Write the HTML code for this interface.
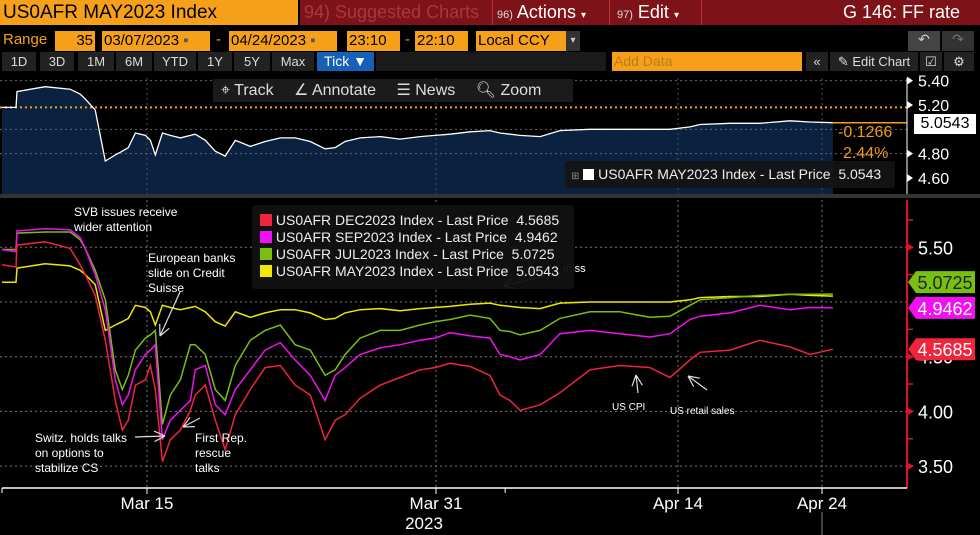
<!DOCTYPE html>
<html><head><meta charset="utf-8"><style>
body{margin:0;width:980px;height:535px;background:#000;overflow:hidden;font-family:"Liberation Sans",sans-serif;position:relative}
.a{position:absolute;white-space:nowrap}
.ob{position:absolute;background:#f6a01a;color:#000;font-size:15px;line-height:20px;padding-left:2px;box-sizing:border-box}
.btn{position:absolute;background:#222;color:#ddd;font-size:13px;line-height:19px;text-align:center;top:52px;height:19px}
</style></head><body>
<div class="a" style="left:0;top:0;width:298px;height:25px;background:#f6a01a;color:#000;font-size:19px;line-height:25px;padding-left:3px;box-sizing:border-box">US0AFR MAY2023 Index</div>
<div class="a" style="left:300px;top:0;width:680px;height:25px;background:#7d1218"></div>
<div class="a" style="left:304px;top:0;font-size:18px;line-height:25px;color:#a8383e">94) Suggested Charts</div>
<div class="a" style="left:492px;top:0;width:118px;height:25px;border-left:1px solid #b33;border-right:1px solid #b33;font-size:18px;line-height:25px;color:#fff;padding-left:4px;box-sizing:border-box"><span style="font-size:11px;color:#ddd">96)</span> Actions <span style="font-size:10px">▾</span></div>
<div class="a" style="left:612px;top:0;width:90px;height:25px;border-right:1px solid #b33;font-size:18px;line-height:25px;color:#fff;padding-left:5px;box-sizing:border-box"><span style="font-size:11px;color:#ddd">97)</span> Edit <span style="font-size:10px">▾</span></div>
<div class="a" style="right:20px;top:0;font-size:18px;line-height:25px;color:#fff">G 146: FF rate</div>

<div class="a" style="left:3px;top:31px;color:#f6a01a;font-size:15px">Range</div>
<div class="ob" style="left:55px;top:31px;width:40px;text-align:right;padding-right:2px">35</div>
<div class="ob" style="left:102px;top:31px;width:108px">03/07/2023 <span style="color:#555">▪</span></div>
<div class="a" style="left:216px;top:31px;color:#f6a01a;font-size:15px">-</div>
<div class="ob" style="left:229px;top:31px;width:108px">04/24/2023 <span style="color:#555">▪</span></div>
<div class="ob" style="left:347px;top:31px;width:53px">23:10</div>
<div class="a" style="left:405px;top:31px;color:#f6a01a;font-size:15px">-</div>
<div class="ob" style="left:415px;top:31px;width:53px">22:10</div>
<div class="ob" style="left:476px;top:31px;width:104px">Local CCY <span style="float:right;background:#333;color:#ccc;width:14px;text-align:center;font-size:10px">▾</span></div>
<div class="a" style="left:908px;top:31px;width:32px;height:20px;background:#444;color:#ccc;text-align:center;font-size:14px">↶</div>
<div class="a" style="left:942px;top:31px;width:32px;height:20px;background:#333;color:#777;text-align:center;font-size:14px">↷</div>

<div class="btn" style="left:2px;width:34px">1D</div>
<div class="btn" style="left:40px;width:34px">3D</div>
<div class="btn" style="left:78px;width:36px">1M</div>
<div class="btn" style="left:116px;width:36px">6M</div>
<div class="btn" style="left:154px;width:42px">YTD</div>
<div class="btn" style="left:198px;width:34px">1Y</div>
<div class="btn" style="left:234px;width:36px">5Y</div>
<div class="btn" style="left:272px;width:42px">Max</div>
<div class="btn" style="left:317px;width:57px;background:#1561b8;color:#fff;font-size:14px">Tick ▼</div>
<div class="btn" style="left:376px;width:230px;background:#1a1a1a"></div>
<div class="a" style="left:612px;top:52px;width:188px;height:19px;background:#f6a01a;color:#b97a20;font-size:14px;line-height:19px;padding-left:2px">Add Data</div>
<div class="btn" style="left:806px;width:22px">«</div>
<div class="btn" style="left:830px;width:88px">✎ Edit Chart</div>
<div class="btn" style="left:920px;width:22px">☑</div>
<div class="btn" style="left:944px;width:30px">⚙</div>

<svg class="a" style="left:0;top:0" width="980" height="535">
<g id="topPanel"></g>
<g id="mainPanel"></g>
</svg>

<div class="a" style="left:213px;top:79px;width:360px;height:23px;background:#1b1b1b;color:#ddd;font-size:16px;line-height:23px">
<span style="margin-left:8px">⌖ Track</span>
<span style="margin-left:16px">∠ Annotate</span>
<span style="margin-left:16px">☰ News</span>
<span style="margin-left:16px">🔍︎ Zoom</span></div>
<div class="a" style="left:838px;top:124px;color:#f29a1a;font-size:16px">-0.1266</div>
<div class="a" style="left:843px;top:145px;color:#f29a1a;font-size:16px">2.44%</div>
<div class="a" style="left:565px;top:161px;width:330px;height:27px;background:rgba(20,20,20,0.92);border-radius:3px;color:#eee;font-size:14px;line-height:27px"><span style="color:#888;font-size:10px;margin-left:6px">⊞</span> <span style="display:inline-block;width:11px;height:11px;background:#fff;vertical-align:-1px"></span> US0AFR MAY2023 Index - Last Price&nbsp; 5.0543</div>
<div class="a" style="left:914px;top:114px;width:62px;height:20px;background:#fff;color:#000;font-size:16px;line-height:20px;text-align:center">5.0543</div>

<div class="a" style="left:252px;top:205px;width:322px;height:84px;background:rgba(17,17,17,0.95);border-radius:3px;color:#eee;font-size:14px;line-height:17px;padding-top:7px;box-sizing:border-box">
<div style="padding-left:8px"><span style="display:inline-block;width:12px;height:12px;background:#f0243c;vertical-align:-1px"></span> US0AFR DEC2023 Index - Last Price&nbsp; 4.5685</div>
<div style="padding-left:8px"><span style="display:inline-block;width:12px;height:12px;background:#f010f0;vertical-align:-1px"></span> US0AFR SEP2023 Index - Last Price&nbsp; 4.9462</div>
<div style="padding-left:8px"><span style="display:inline-block;width:12px;height:12px;background:#78c010;vertical-align:-1px"></span> US0AFR JUL2023 Index - Last Price&nbsp; 5.0725</div>
<div style="padding-left:8px"><span style="display:inline-block;width:12px;height:12px;background:#f0e800;vertical-align:-1px"></span> US0AFR MAY2023 Index - Last Price&nbsp; 5.0543</div>
</div>

<script>
const times=[0,0.77,0.83,2.38,3.76,4.31,4.59,5.14,5.70,6.25,6.64,6.97,7.36,7.91,8.19,8.46,8.85,9.29,9.85,10.40,10.67,11.23,11.78,12.33,12.89,13.72,14.54,15.38,16.20,17.04,17.86,18.42,18.97,19.80,20.91,22.01,23.12,23.95,24.81,25.97,27.12,27.70,28.28,28.86,30.02,31.17,32.91,34.64,36.38,37.54,38.83,39.53,41.61,43.69,45.78,47.17,48.76];
const may23=[5.18,5.18,5.31,5.35,5.33,5.29,5.25,5.16,4.74,4.79,4.82,4.85,4.97,4.95,4.91,4.79,4.97,4.95,4.93,4.95,4.96,4.91,4.82,4.78,4.91,4.86,4.90,4.93,4.93,4.90,4.84,4.85,4.90,4.93,4.94,4.92,4.94,4.95,4.96,4.98,4.99,4.97,4.96,4.95,4.94,4.99,5.00,5.00,5.00,5.00,5.02,5.04,5.05,5.05,5.07,5.06,5.0543];
const jul23=[5.48,5.48,5.63,5.64,5.64,5.57,5.49,5.29,5.02,4.38,4.20,4.33,4.56,4.67,4.70,4.74,3.88,4.15,4.29,4.61,4.61,4.52,4.20,4.10,4.42,4.65,4.74,4.79,4.61,4.56,4.33,4.38,4.52,4.67,4.74,4.74,4.79,4.82,4.84,4.88,4.85,4.74,4.73,4.70,4.74,4.85,4.91,4.91,4.86,4.87,4.97,5.02,5.04,5.06,5.07,5.07,5.0725];
const sep23=[5.48,5.46,5.65,5.67,5.66,5.59,5.49,5.25,4.93,4.29,4.06,4.15,4.38,4.52,4.56,4.61,3.74,3.92,4.01,4.10,4.38,4.42,4.06,3.97,4.20,4.38,4.56,4.63,4.47,4.33,4.10,4.33,4.40,4.52,4.58,4.61,4.65,4.67,4.72,4.69,4.67,4.52,4.50,4.47,4.52,4.71,4.74,4.71,4.68,4.71,4.84,4.87,4.90,4.97,4.93,4.95,4.9462];
const dec23=[5.34,5.32,5.52,5.55,5.49,5.34,5.25,5.06,4.65,4.10,3.83,3.92,4.24,4.29,4.42,4.20,3.54,3.74,3.83,4.01,4.15,4.24,3.92,3.65,3.97,4.20,4.40,4.42,4.24,4.15,3.74,3.92,3.97,4.12,4.24,4.31,4.38,4.40,4.44,4.41,4.33,4.15,4.10,4.01,4.06,4.17,4.38,4.42,4.40,4.31,4.47,4.54,4.56,4.65,4.59,4.52,4.5685];
const xTickLabels=["Mar 15","Mar 31","Apr 14","Apr 24"];
const xTickTimes=[8,24,38,48];
const yTicks=[5.5,4.5,4.0,3.5];
const yTicksTop=[5.40,5.20,4.80,4.60];
const prevClose=5.18;

const NS="http://www.w3.org/2000/svg";
const xd=[0,8,24,38,48],xr=[2,147,436,678,822];
function x(t){for(let i=0;i<xd.length-2;i++){if(t<=xd[i+1])return xr[i]+(t-xd[i])*(xr[i+1]-xr[i])/(xd[i+1]-xd[i]);}const k=xd.length-2;return xr[k]+(t-xd[k])*(xr[k+1]-xr[k])/(xd[k+1]-xd[k]);}
function y(v){return 302-(v-5.0)*109.4;}
function yt(v){return 105+(5.2-v)*121.7;}
function mk(tag,attrs,parent){const e=document.createElementNS(NS,tag);for(const k in attrs)e.setAttribute(k,attrs[k]);parent.appendChild(e);return e;}
const topG=document.getElementById('topPanel'),mainG=document.getElementById('mainPanel');

// upper panel
let d='M'+x(times[0])+' 196';times.forEach((t,i)=>{d+=' L'+x(t).toFixed(1)+' '+yt(may23[i]).toFixed(1);});d+=' L'+x(times[times.length-1]).toFixed(1)+' 196 Z';
let e=mk('path',{d:d,fill:'#0b2140'},topG);


[5.40,5.0,4.8].forEach(v=>{e=mk('line',{x1:0,x2:907,y1:yt(v),y2:yt(v),stroke:'#666','stroke-dasharray':'2 3'},topG);

});
xTickTimes.forEach(t=>{e=mk('line',{x1:x(t),x2:x(t),y1:78,y2:196,stroke:'#555','stroke-dasharray':'2 3'},topG);

});
e=mk('line',{x1:0,x2:907,y1:yt(prevClose),y2:yt(prevClose),stroke:'#f6a01a','stroke-width':2,'stroke-dasharray':'2 3'},topG);


let p='';times.forEach((t,i)=>{p+=(i?' L':'M')+x(t).toFixed(1)+' '+yt(may23[i]).toFixed(1);});
e=mk('path',{d:p,fill:'none',stroke:'#fff','stroke-width':1.3},topG);


const last=may23[may23.length-1];
e=mk('line',{x1:x(times[times.length-1]),x2:907,y1:yt(last),y2:yt(last),stroke:'#f6a01a','stroke-width':1.5},topG);


e=mk('line',{x1:907,x2:907,y1:78,y2:196,stroke:'#fff'},topG);


yTicksTop.forEach(v=>{e=mk('text',{x:918,y:yt(v)+6,fill:'#fff','font-size':16},topG);e.textContent=v.toFixed(2);


e=mk('path',{d:`M907 ${yt(v)-4} L913 ${yt(v)} L907 ${yt(v)+4}Z`,fill:'#fff'},topG);

});
e=mk('rect',{x:0,y:194,width:980,height:4,fill:'#333'},topG);



// main panel
[5.5,5.0,4.5,4.0,3.5].forEach(v=>{e=mk('line',{x1:0,x2:907,y1:y(v),y2:y(v),stroke:'#777','stroke-dasharray':'2 3'},mainG);

});
xTickTimes.forEach(t=>{e=mk('line',{x1:x(t),x2:x(t),y1:200,y2:488,stroke:'#777','stroke-dasharray':'2 3'},mainG);

});
const series=[[may23,'#f0e800','series-may2023'],[jul23,'#78c010','series-jul2023'],[sep23,'#f010f0','series-sep2023'],[dec23,'#f0243c','series-dec2023']];
series.forEach(s=>{let q='';times.forEach((t,i)=>{q+=(i?' L':'M')+x(t).toFixed(1)+' '+y(s[0][i]).toFixed(1);});
e=mk('path',{d:q,fill:'none',stroke:s[1],'stroke-width':1.5},mainG);

});
e=mk('line',{x1:907,x2:907,y1:200,y2:488,stroke:'#e0102a','stroke-width':2},mainG);


e=mk('line',{x1:2,x2:907,y1:488,y2:488,stroke:'#fff','stroke-width':1.5},mainG);


[5.75,5.25,4.75,4.25,3.75].forEach(v=>{e=mk('line',{x1:907,x2:913,y1:y(v),y2:y(v),stroke:'#e0102a','stroke-width':1.5},mainG);

});
yTicks.forEach(v=>{e=mk('path',{d:`M907 ${y(v)-4} L914 ${y(v)} L907 ${y(v)+4}Z`,fill:'#e0102a'},mainG);


e=mk('text',{x:918,y:y(v)+7,fill:'#fff','font-size':18},mainG);e.textContent=v.toFixed(2);

});
xTickTimes.forEach((t,i)=>{e=mk('line',{x1:x(t),x2:x(t),y1:488,y2:494,stroke:'#fff'},mainG);


e=mk('text',{x:x(t),y:509,fill:'#fff','font-size':17,'text-anchor':'middle'},mainG);e.textContent=xTickLabels[i];

});
[0,28].forEach(t=>{e=mk('line',{x1:x(t),x2:x(t),y1:488,y2:493,stroke:'#fff'},mainG);

});
e=mk('text',{x:424,y:529,fill:'#fff','font-size':17,'text-anchor':'middle'},mainG);e.textContent='2023';


e=mk('line',{x1:822,x2:822,y1:512,y2:535,stroke:'#888'},mainG);


// price tags
const tags=[[jul23,'#78c010','#223','tag-jul2023'],[sep23,'#f010f0','#fff','tag-sep2023'],[dec23,'#f0243c','#fff','tag-dec2023']];
const tagOff=[-12,0,0];
tags.forEach((g,i)=>{const v=g[0][g[0].length-1];const cy=y(v)+tagOff[i];
e=mk('path',{d:`M908 ${cy} L916 ${cy-11} L975 ${cy-11} L975 ${cy+11} L916 ${cy+11}Z`,fill:g[1]},mainG);


e=mk('text',{x:945,y:cy+7,fill:g[2],'font-size':18,'text-anchor':'middle'},mainG);e.textContent=v.toFixed(4);

});
// annotations
const notes=[[74,216,['SVB issues receive','wider attention']],[148,262,['European banks','slide on Credit','Suisse']],[35,442,['Switz. holds talks','on options to','stabilize CS']],[195,442,['First Rep.','rescue','talks']]];
notes.forEach(n=>{n[2].forEach((l,j)=>{e=mk('text',{x:n[0],y:n[1]+j*15,fill:'#fff','font-size':12},mainG);e.textContent=l;

});});
[[612,410,'US CPI',10],[670,414,'US retail sales',10],[563,272,'miss',11]].forEach(n=>{e=mk('text',{x:n[0],y:n[1],fill:'#fff','font-size':n[3]},mainG);e.textContent=n[2];

});
const arrows=[[180,292,160,336],[135,437,165,436],[200,418,183,427],[638,393,636,375],[707,390,688,376],[545,276,503,286]];
arrows.forEach(a=>{const ang=Math.atan2(a[3]-a[1],a[2]-a[0]);let q=`M${a[0]} ${a[1]} L${a[2]} ${a[3]}`;
[0.45,-0.45].forEach(da=>{q+=` M${a[2]} ${a[3]} L${(a[2]-12*Math.cos(ang+da)).toFixed(1)} ${(a[3]-12*Math.sin(ang+da)).toFixed(1)}`;});
e=mk('path',{d:q,stroke:'#ddd','stroke-width':1.2,fill:'none'},mainG);

});
</script>
</body></html>
